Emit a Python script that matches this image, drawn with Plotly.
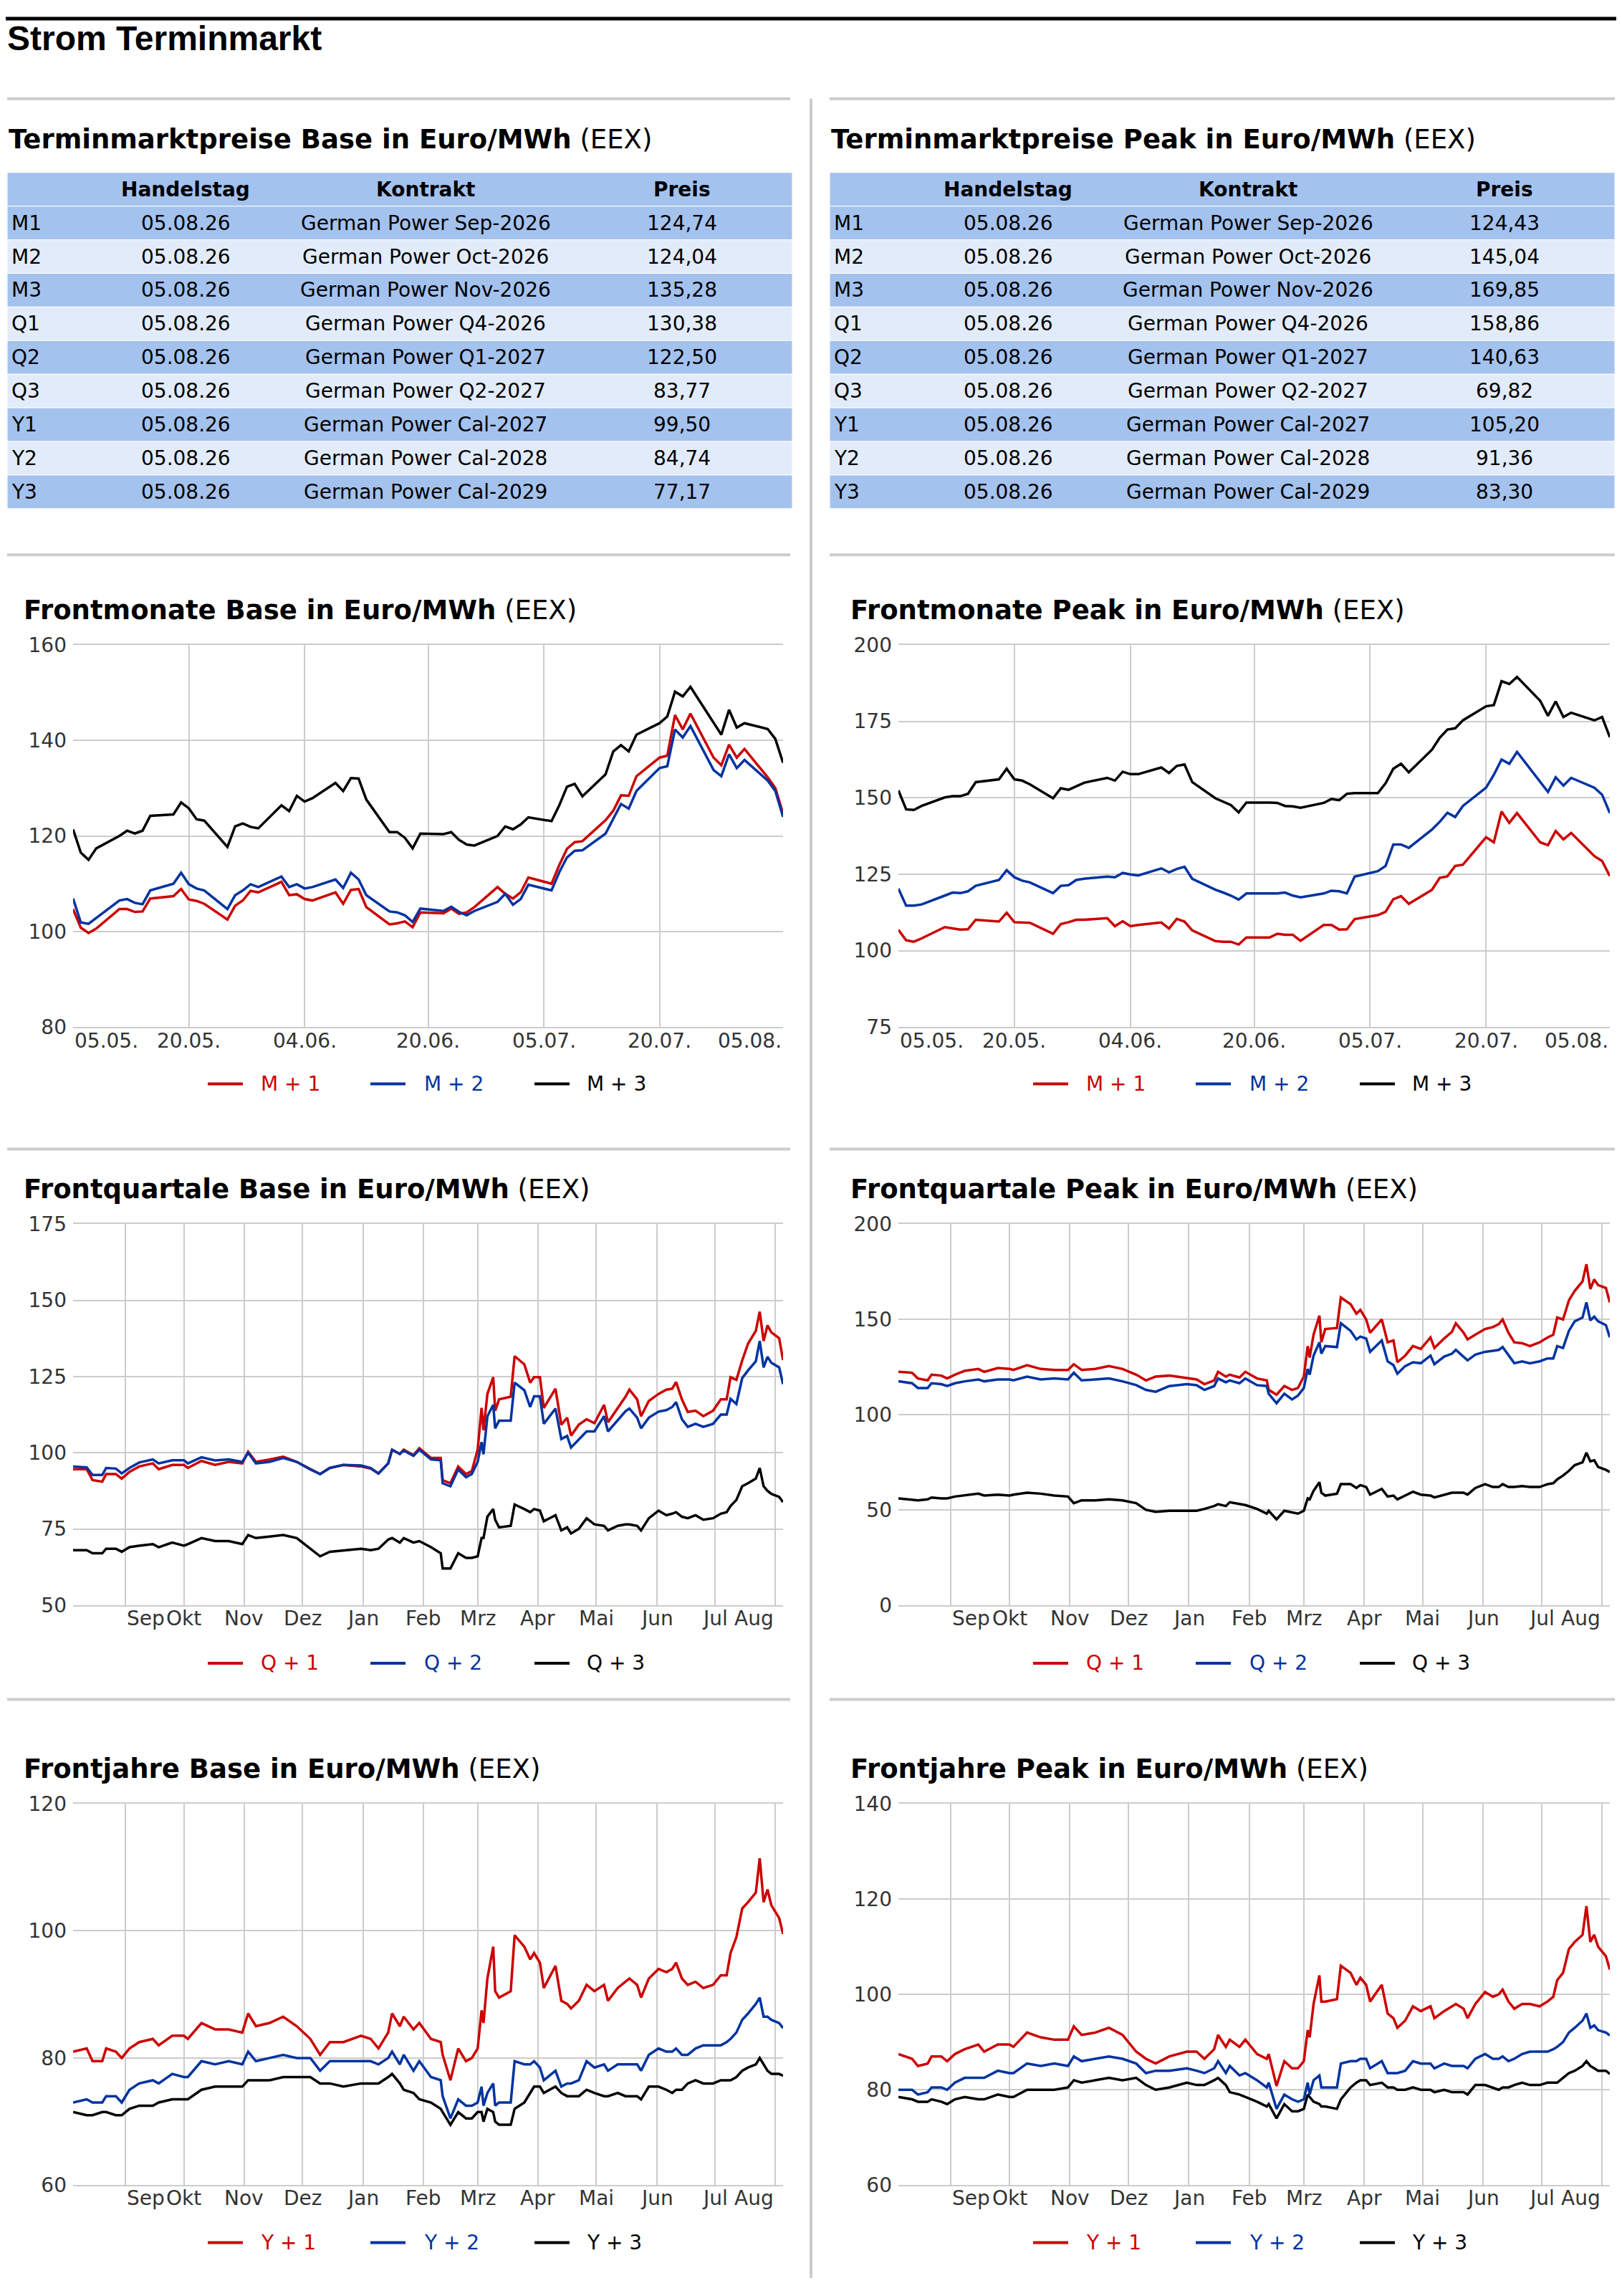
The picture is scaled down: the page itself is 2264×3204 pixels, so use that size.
import plotly.graph_objects as go

W, H = 2264, 3204
OFF = 8                      # default page margin of the html body
FW, FH = W - 2 * OFF, H - 2 * OFF
RED, BLUE, BLACK = "#cc0000", "#0033a0", "#000000"
FONT = "DejaVu Sans"

# ---------------- table data ----------------
row_labels = ["M1", "M2", "M3", "Q1", "Q2", "Q3", "Y1", "Y2", "Y3"]
trade_day = "05.08.26"
contracts = ["German Power Sep-2026", "German Power Oct-2026", "German Power Nov-2026",
             "German Power Q4-2026", "German Power Q1-2027", "German Power Q2-2027",
             "German Power Cal-2027", "German Power Cal-2028", "German Power Cal-2029"]
base_prices = ["124,74", "124,04", "135,28", "130,38", "122,50", "83,77", "99,50", "84,74", "77,17"]
peak_prices = ["124,43", "145,04", "169,85", "158,86", "140,63", "69,82", "105,20", "91,36", "83,30"]

# ---------------- front months (business days) ----------------
m_dates = ["2026-05-05","2026-05-06","2026-05-07","2026-05-08","2026-05-11","2026-05-12","2026-05-13","2026-05-14","2026-05-15",
           "2026-05-18","2026-05-19","2026-05-20","2026-05-21","2026-05-22","2026-05-25","2026-05-26","2026-05-27","2026-05-28","2026-05-29",
           "2026-06-01","2026-06-02","2026-06-03","2026-06-04","2026-06-05","2026-06-08","2026-06-09","2026-06-10","2026-06-11","2026-06-12",
           "2026-06-15","2026-06-16","2026-06-17","2026-06-18","2026-06-19","2026-06-22","2026-06-23","2026-06-24","2026-06-25","2026-06-26",
           "2026-06-29","2026-06-30","2026-07-01","2026-07-02","2026-07-03","2026-07-06","2026-07-07","2026-07-08","2026-07-09","2026-07-10",
           "2026-07-13","2026-07-14","2026-07-15","2026-07-16","2026-07-17","2026-07-20","2026-07-21","2026-07-22","2026-07-23","2026-07-24",
           "2026-07-27","2026-07-28","2026-07-29","2026-07-30","2026-07-31","2026-08-03","2026-08-04","2026-08-05"]
m1_base = [104.7,100.8,99.7,100.6,104.7,104.7,104.1,104.2,106.9, 107.4,108.9,106.7,106.4,105.8,102.5,105.4,106.5,108.5,108.2,
           110.4,107.6,107.8,106.8,106.5,108.2,105.8,108.7,108.9,105.1, 101.5,101.7,102.1,100.9,104.0,103.8,104.8,103.7,104.0,105.1,
           109.3,107.9,106.9,108.2,111.3,110.0,113.9,117.3,118.7,118.9, 123.3,125.3,128.5,128.4,132.5,136.4,136.8,145.3,142.3,145.6,
           136.4,134.8,139.1,136.4,138.2,132.3,130.0,124.7]
m2_base = [106.9,101.9,101.6,102.8,106.5,106.8,106.0,105.7,108.6, 110.0,112.3,109.9,109.0,108.6,104.7,107.6,108.6,109.9,109.3,
           111.5,109.3,109.9,109.0,109.3,110.9,109.1,112.3,110.9,107.6, 104.2,104.0,103.4,102.0,104.8,104.3,105.2,104.1,103.4,104.3,
           106.2,107.9,105.6,106.8,109.8,108.6,112.4,115.5,116.9,117.0, 120.5,123.5,126.7,125.7,129.4,134.2,134.6,142.3,140.6,143.0,
           133.8,132.5,137.1,134.2,135.9,131.6,129.4,124.0]
m3_base = [121.4,116.5,115.0,117.4,120.0,121.1,120.5,121.1,124.2, 124.5,127.0,125.8,123.5,123.2,117.7,122.0,122.6,121.9,121.6,
           126.4,125.2,128.4,127.2,127.9,131.1,129.4,132.1,132.0,127.6, 120.8,120.8,119.6,117.4,120.5,120.4,120.8,119.2,118.2,118.0,
           120.0,122.0,121.4,122.4,123.9,123.1,126.4,130.3,130.9,128.3, 132.9,137.7,139.0,137.7,141.2,143.6,145.0,150.2,149.2,151.2,
           143.6,141.2,146.4,142.7,143.6,142.4,140.3,135.3]
m1_peak = [106.8,103.4,102.9,104.0,107.7,107.3,106.9,107.0,110.1, 109.5,112.4,109.3,109.1,109.1,105.5,108.7,109.3,110.1,110.1,
           110.6,108.0,109.6,108.0,108.4,109.2,107.2,110.4,109.5,106.6, 103.1,102.9,102.9,102.0,104.3,104.3,105.5,105.2,105.2,103.2,
           108.4,108.4,106.9,107.0,110.3,111.6,112.7,116.8,117.8,115.3, 119.9,123.8,124.3,127.7,128.1,137.1,135.4,145.5,141.8,145.0,
           135.4,134.5,139.1,136.4,138.5,130.9,129.3,124.4]
m2_peak = [120.3,114.7,114.7,115.1,118.0,119.0,118.8,119.4,121.2, 123.1,126.3,124.0,122.9,122.3,118.8,121.2,121.4,123.1,123.5,
           124.2,124.0,125.4,124.9,124.6,126.9,125.6,126.7,127.4,123.5, 119.9,119.0,118.0,116.7,118.7,118.7,118.7,119.0,118.0,117.4,
           118.7,119.6,119.4,118.7,124.2,126.0,127.7,134.7,134.7,133.6, 139.6,142.1,145.1,143.7,147.3,153.3,157.5,162.5,161.1,165.0,
           155.0,151.9,156.7,154.0,156.5,153.3,151.0,145.0]
m3_peak = [152.4,146.2,146.0,147.3,150.1,150.5,150.5,151.3,155.1, 156.0,159.5,156.0,155.6,154.4,149.8,153.1,152.6,153.8,154.9,
           156.5,155.6,158.5,157.7,157.7,159.9,158.1,160.4,160.9,155.1, 149.8,148.7,147.6,145.2,148.4,148.4,148.3,147.3,147.2,146.7,
           148.3,149.6,149.2,151.3,151.5,151.5,154.7,159.5,161.1,158.3, 165.7,169.6,172.3,172.7,175.3,179.9,180.3,188.1,187.2,189.5,
           181.7,176.8,181.5,176.4,177.8,175.3,176.4,169.8]

# ---------------- front quarters / years (sampled dates) ----------------
qy_dates = ["2025-08-05","2025-08-12","2025-08-15","2025-08-20","2025-08-22","2025-08-27","2025-08-30",
            "2025-09-03","2025-09-08","2025-09-15","2025-09-18","2025-09-25",
            "2025-10-01","2025-10-03","2025-10-10","2025-10-17","2025-10-24","2025-10-31",
            "2025-11-03","2025-11-07","2025-11-14","2025-11-21","2025-11-28",
            "2025-12-05","2025-12-10","2025-12-15","2025-12-22","2025-12-31",
            "2026-01-05","2026-01-09","2026-01-14","2026-01-16","2026-01-20","2026-01-22","2026-01-27","2026-01-30",
            "2026-02-05","2026-02-10","2026-02-11","2026-02-15","2026-02-19","2026-02-23","2026-02-26",
            "2026-03-01","2026-03-03","2026-03-04","2026-03-06","2026-03-09","2026-03-10","2026-03-12","2026-03-18","2026-03-20",
            "2026-03-25","2026-03-28","2026-03-30",
            "2026-04-02","2026-04-04","2026-04-10","2026-04-13","2026-04-16","2026-04-18","2026-04-22","2026-04-26","2026-04-30",
            "2026-05-05","2026-05-07","2026-05-12","2026-05-16","2026-05-18","2026-05-22","2026-05-24","2026-05-28",
            "2026-06-02","2026-06-06","2026-06-09","2026-06-11","2026-06-14","2026-06-17","2026-06-21","2026-06-25","2026-06-30",
            "2026-07-04","2026-07-07","2026-07-09","2026-07-12","2026-07-15","2026-07-18","2026-07-22","2026-07-24","2026-07-26",
            "2026-07-28","2026-07-30","2026-08-03","2026-08-05"]
q1_base = [94.6,94.6,91,90.5,93,93,91.5, 93.7,95.5,96.5,94.6,96, 96,95,97.3,96,97,96.5, 100.3,97,97.8,98.7,97,
           94.6,93,95,96,95.5, 94.8,93.2,96.5,101,99.6,101,99.2,101.5, 98.3,98.3,91,90,95.5,93,94,
           101,114.7,107.4,119.3,124.8,113.8,117.5,118.4,131.7,129,123,124.8,
           124.8,114.7,121,109.2,111.5,105.6,109.2,111,109.7, 115.7,110,114.7,118.4,120.7,117.5,112,117,
           119.3,120.7,121,123.2,117.5,113.4,113.8,112,113.8, 117.5,117.5,124.8,123.9,130.3,135.8,140,146.3,136.7,
           141.8,139.5,137.6,130.4]
q2_base = [95.5,95.2,92.7,92.7,95,94.8,93.2, 95,96.8,97.8,96.5,97.5, 97.5,96.5,98.5,97.5,97.8,97, 100,96.5,97,98.3,97,
           94.5,93,95,96,95.8, 95,93.2,96.5,101,99.6,100.7,99,101, 97.8,97.5,90,89,94.5,92,93,
           97,103.5,99.5,112,115.7,108,110.5,110.5,123,120.5,115,118.5,
           118.5,109.5,114.5,104.5,105.5,101.7,104.5,107,107, 112,107,110.5,113.6,114.5,111.5,108,111.5,
           113.5,114,115,116.6,111,108.5,109.5,108.5,109.5, 112.5,112.5,117.7,116,124.5,127,130,136.7,128,
           131.5,129.5,128,122.5]
q3_base = [68,68,67,67,68.5,68.5,67.5, 69,69.5,70,69,70.5, 69.5,70,72,71,71,70, 73,72,72.5,73,72,
           68.5,66,67.5,68,68.5, 68,68.5,71.5,72,70.5,72,70.5,71, 69,67,62,62,67,65.5,65.5,
           66,72,72,79,81.5,78,75.5,76,83,81.5,80.5,81.5,
           81,77.5,79.5,74.5,75.5,73.5,75,78.5,76.5, 76,74.5,76,76.5,76.5,76,74.5,78.5,
           81,79.5,80,80.5,79,78.5,79.5,78,78.5, 80,80.5,82.5,84.5,89,90,91.5,95,89,
           87.5,86.5,85.5,83.8]
q1_peak = [122.5,122,119,118,121,120.5,119, 121,123,124,122.5,124.5, 124,123.5,126,124,123.5,123.5, 126.5,123.5,124,125.5,124,
           121,118,120,120.5,119, 118.5,116,118,122.5,120,121,119.5,122.5, 119,118,113,110.5,115,113,114,
           120,136,130,142,152,138,145,145.5,161.5,158,153,155,
           150,143,150,138,139,127.5,131,136,134.5, 140.5,135,140,143.5,148,143,139.5,142,
           145,146,147.5,150,143,138,137.5,136,138, 140.5,142,151,150,160,165,170,179,166,
           171,168,166.5,158.9]
q2_peak = [117.5,116.5,114,114,116.5,116,115, 116.5,117.5,118.5,117.5,118.5, 118.5,118,120,118.5,119,118.5, 122,118,118.5,119,117.5,
           115.5,113,112,115,116, 115.5,113,115,119,117,118,116.5,119, 115.5,115,111,106,111,108,110,
           114,124,121,131,138,132,136,135.5,148,144,139.5,141,
           140,133,139,128,126,121.5,125.5,127.5,127, 131,126.5,130.5,132,134,130.5,128.5,131.5,
           133,133.5,134,135.5,131,127,128,127,128, 129.5,129.5,136,135,144,149,151,159,149.5,
           151.5,149,147,140.6]
q3_peak = [56,55.5,55,55.5,56.5,56,56, 57,57.5,58.5,57.5,58, 57.5,58,59,58.5,57.5,57, 53.5,55,55,55.5,55,
           53.5,50,49,49.5,49.5, 49.5,50.5,52,53,52,54,53,52.5, 50.5,48,49.5,45,49.5,48.5,48,
           49.5,56,55.5,60,64.5,59,57.5,58.5,63.5,63.5,61.5,63,
           62,58,61,57,57.5,55.5,57.5,59.5,58, 57.5,56.5,58,59,59,59,58,61.5,
           63.5,62,62,63.5,62,62,62.5,62,62, 63.5,64,66,68,70.5,73.5,75,80,75.5,
           76,72.5,71,69.8]
y1_base = [81,81.5,79.5,79.5,81.5,81,80, 81.5,82.5,83,82,83.5, 83.5,83,85.5,84.5,84.5,84, 87,85,85.5,86.5,85,
           83,80.5,82.5,82.5,83.5, 83,81.5,84,87,85,86.5,84.5,85.5, 83,82.5,80.5,76.5,81.5,79.5,80,
           81.5,87.5,85.5,92.5,97.5,90.5,89.5,90.5,99.3,97.5,95.5,96.5,
           95,91,94.5,89,88.5,87.8,89,91.5,90.5, 91.5,89,91,92,92.5,91.5,89.5,92.5,
           94,93.5,94,95,92.5,91.5,92,91,91.5, 93,93,96.5,99,103.5,104.5,106,111.4,104.5,
           106.5,104,102,99.5]
y2_base = [73,73.5,73,73,74,74,73, 75,76,76.5,76,77.5, 77,77,79.5,79,79.5,79, 81,79.5,80,80.5,80,
           80,78,79.5,79.5,79.5, 79.5,79,80,81,79,80.5,78,79.5, 77,76.5,74,70.5,73.5,72.5,72.5,
           73,75.5,72.5,74.5,76,72.5,73,73,79.5,79,79,79.5,
           78.5,76.5,78,75.5,76,76,76.5,79.5,78.5, 79,78,79,79,79,79,78,80.5,
           81.5,81,81,81.5,80.5,80.5,81.5,82,82, 82,82.5,83,84,86,87,88.5,89.5,86.5,
           86.5,86,85.5,84.7]
y3_base = [71.5,71,71,71.5,71.5,71,71, 72,72.5,72.5,73,73.5, 73.5,73.5,75,75.5,75.5,75.5, 76.5,76.5,76.5,77,77,
           77,76,76,75.5,76, 76,76,77,77.5,76,75,74.5,73.5, 73,72,71.5,69.5,71.5,70.5,70.5,
           71.5,71.5,70,72,71.5,70,69.5,69.5,72,73,74.5,75.5,
           75.5,74.5,75.5,74.5,74,74,74,75,74.5, 74,74,74.5,74,74,74,73.5,75.5,
           75.5,75,74.5,75,75,76,76.5,76,76, 76.5,76.5,76.5,77,78,78.5,79,80,79,
           78,77.5,77.5,77.2]
y1_peak = [87.5,86.5,85,85.5,87,87,86, 87.5,88.5,89.5,88,89.5, 89.5,89,92,91,90.5,90.5, 93.3,91.5,92,93,91.5,
           88,86.5,85.5,87,88, 88,86.5,88.5,91.5,89,90.5,89,90.5, 87.5,86.5,87.5,80.8,86,84.5,84.5,
           86,92.5,91,98,104,98.5,98.5,99,106,104.5,102,103.5,
           102,98.5,102,96,95,93,94.5,97.5,96.5, 97.5,95,96.5,97.5,98,97,95,98,
           100.5,99.5,100,101,98.5,97,98,98,97.5, 98.5,99.5,103,104.5,109.5,111,112.5,118.5,111,
           112.5,110,108,105.2]
y2_peak = [80,80,79,79.5,80.5,80.5,80, 81.5,82.5,82.5,82.5,84, 83.5,83.5,85.5,85,85.5,85, 87,86,86.5,87,86.5,
           85.5,83.5,84,84,84.5, 84,83.5,84.5,86,83.5,85,83,83.5, 82,80.5,81.5,76,79,78,77.5,
           78,81.5,79,82,83,80.5,80.5,80.5,85.5,86,86,86.5,
           86.5,84.5,86,83.5,83.5,83.5,84,86,85.5, 85.5,84.5,85.5,85,85,85,84.5,86.5,
           87.5,86.5,86.5,87,86,86.5,87.5,88,88, 88,88.5,89,90,92,93,94.5,96,93,
           93.5,92.5,92,91.4]
y3_peak = [78.5,78,77.5,77.5,78,77.5,77, 78,78.5,78,78,79, 78.5,78.5,80,80,80,80.5, 82,81.5,82,82.5,82,
           82.5,81,80,80.5,81.5, 81,81,82,82.5,81,79.5,79,78.5, 77.5,76.5,77,74,77,75.5,75.5,
           76,79,78.5,77.5,77,76.5,76.5,76,78,80.5,81.5,82,
           82,81,81.5,80.5,80.5,80,80,80.5,80, 80,79.5,80,79.5,79.5,79.5,79,81,
           81,80.5,80,80.5,80.5,81,81.5,81,81, 81.5,81.5,81.5,82.5,83.5,84,85,86,85,
           84.5,84,84,83.3]

m_ticks = ["2026-05-20", "2026-06-04", "2026-06-20", "2026-07-05", "2026-07-20"]
m_ticklabels = ["20.05.", "04.06.", "20.06.", "05.07.", "20.07."]
q_ticks = ["2025-09-01","2025-10-01","2025-11-01","2025-12-01","2026-01-01","2026-02-01",
           "2026-03-01","2026-04-01","2026-05-01","2026-06-01","2026-07-01","2026-08-01"]
q_ticklabels = ["Sep","Okt","Nov","Dez","Jan","Feb","Mrz","Apr","Mai","Jun","Jul","Aug"]

# page pixel -> paper fraction (figure sits at the body margin offset)
def X(px): return (px - OFF) / FW
def Y(py): return 1 - (py - OFF) / FH

fig = go.Figure()
shapes, annots = [], []

def text(x, y, s, size=28, color="#000", xanchor="left", family=FONT, xref="paper", yref="paper"):
    annots.append(dict(x=x, y=y, xref=xref, yref=yref, text=s, showarrow=False, xanchor=xanchor,
                       yanchor="middle", font=dict(family=family, size=size, color=color)))

def hline(x0, x1, y, color="#cccccc", width=4):
    shapes.append(dict(type="line", xref="paper", yref="paper", x0=X(x0), x1=X(x1), y0=Y(y), y1=Y(y),
                       line=dict(color=color, width=width)))

# header
hline(OFF, W - OFF, 10, "#000000", 5)
text(X(OFF), Y(38), "<b>Strom Terminmarkt</b>", 48, family="Liberation Sans")
shapes.append(dict(type="line", xref="paper", yref="paper", x0=X(1132), x1=X(1132), y0=Y(123), y1=0,
                   line=dict(color="#cccccc", width=4)))
for yy in (123, 766, 1604, 2380):
    hline(10, 1103, yy)
    hline(1158, 2254, yy)

# tables
def table(x0, x1, title, prices):
    text(X(x0), Y(180), f"<b>{title}</b> (EEX)", 37)
    top, rh = 227, 47.4
    cols = [x0 + 4, x0 + 249, x0 + 584, x0 + 942]
    for r in range(10):
        dark = (r == 0) or ((r - 1) % 2 == 0)
        fill = "#a4c2ee" if dark else "#e2ebf9"
        shapes.append(dict(type="rect", xref="paper", yref="paper", x0=X(x0), x1=X(x1),
                           y0=Y(top + r * rh), y1=Y(top + (r + 1) * rh), fillcolor=fill,
                           line=dict(color="white", width=1), layer="below"))
        yc = Y(top + r * rh + rh / 2)
        if r == 0:
            row = ["", "<b>Handelstag</b>", "<b>Kontrakt</b>", "<b>Preis</b>"]
        else:
            row = [row_labels[r - 1], trade_day, contracts[r - 1], prices[r - 1]]
        for c, s in enumerate(row):
            text(X(cols[c]), yc, s, 28, xanchor="left" if c == 0 else "center")

table(10, 1106, "Terminmarktpreise Base in Euro/MWh", base_prices)
table(1158, 2254, "Terminmarktpreise Peak in Euro/MWh", peak_prices)

# charts
xdom = {"L": [X(102), X(1093)], "R": [X(1254), X(2247)]}
rows = {0: (893, 1432, 844, 1451, 1512), 1: (1710, 2247, 1661, 2266, 2329), 2: (2527, 3065, 2478, 3083, 3146)}
title_x = {"L": 31, "R": 1185}
leg_off = {"L": 0, "R": 1152}

charts = [
    ("L", 0, "Frontmonate Base in Euro/MWh", m_dates, [m1_base, m2_base, m3_base], ["M + 1", "M + 2", "M + 3"], (80, 160, 20), "m"),
    ("R", 0, "Frontmonate Peak in Euro/MWh", m_dates, [m1_peak, m2_peak, m3_peak], ["M + 1", "M + 2", "M + 3"], (75, 200, 25), "m"),
    ("L", 1, "Frontquartale Base in Euro/MWh", qy_dates, [q1_base, q2_base, q3_base], ["Q + 1", "Q + 2", "Q + 3"], (50, 175, 25), "q"),
    ("R", 1, "Frontquartale Peak in Euro/MWh", qy_dates, [q1_peak, q2_peak, q3_peak], ["Q + 1", "Q + 2", "Q + 3"], (0, 200, 50), "q"),
    ("L", 2, "Frontjahre Base in Euro/MWh", qy_dates, [y1_base, y2_base, y3_base], ["Y + 1", "Y + 2", "Y + 3"], (60, 120, 20), "q"),
    ("R", 2, "Frontjahre Peak in Euro/MWh", qy_dates, [y1_peak, y2_peak, y3_peak], ["Y + 1", "Y + 2", "Y + 3"], (60, 140, 20), "q"),
]
colors = [RED, BLUE, BLACK]
layout_axes = {}
for i, (side, r, title, dates, series, names, (ymin, ymax, dy), kind) in enumerate(charts):
    n = i + 1
    xa, ya = f"xaxis{n}", f"yaxis{n}"
    xr, yr = f"x{n}", f"y{n}"
    top, bot, ty, tly, ly = rows[r]
    if kind == "m":
        xrange = ["2026-05-05", "2026-08-05"]
        tv, tl = m_ticks, m_ticklabels
    else:
        xrange = ["2025-08-05", "2026-08-05"]
        tv, tl = q_ticks, q_ticklabels
    layout_axes[xa] = dict(domain=xdom[side], anchor=yr, type="date", range=xrange, tickvals=tv,
                           showticklabels=False, showgrid=True, gridcolor="#cccccc", gridwidth=2,
                           showline=True, mirror=True, linecolor="#cccccc", linewidth=2, zeroline=False, ticks="")
    layout_axes[ya] = dict(domain=[Y(bot), Y(top)], anchor=xr, range=[ymin, ymax], dtick=dy,
                           tick0=ymin, showgrid=True, gridcolor="#cccccc", gridwidth=2, zeroline=False,
                           tickfont=dict(family=FONT, size=28, color="#333333"), ticks="", ticklabelstandoff=8)
    for s, nm, col in zip(series, names, colors):
        m = min(len(dates), len(s))
        fig.add_trace(go.Scatter(x=dates[:m], y=s[:m], mode="lines", line=dict(color=col, width=3.5),
                                 xaxis=xr, yaxis=yr, showlegend=False, name=nm))
    text(X(title_x[side]), Y(ty), f"<b>{title}</b> (EEX)", 37)
    yl = Y(tly)
    x0p, x1p = xdom[side]
    if kind == "m":
        text(x0p, yl, "05.05.", 28, "#333333", "left")
        text(x1p, yl, "05.08.", 28, "#333333", "right")
        for v, l in zip(tv, tl):
            text(v, yl, l, 28, "#333333", "center", xref=xr)
    else:
        for j, (v, l) in enumerate(zip(tv, tl)):
            anc = "left" if j == 0 else ("right" if j == len(tv) - 1 else "center")
            text(v, yl, l, 28, "#333333", anc, xref=xr)
    off = leg_off[side]
    for (lx0, lx1, tx), nm, col in zip([(290, 339, 362), (517, 566, 590), (746, 795, 817)], names, colors):
        shapes.append(dict(type="line", xref="paper", yref="paper", x0=X(lx0 + off), x1=X(lx1 + off),
                           y0=Y(ly), y1=Y(ly), line=dict(color=col, width=4)))
        text(X(tx + off), Y(ly), nm, 28, col)

fig.update_layout(width=FW, height=FH, margin=dict(l=0, r=0, t=0, b=0), paper_bgcolor="white",
                  plot_bgcolor="white", shapes=shapes, annotations=annots, showlegend=False, **layout_axes)
fig.write_html("out.html")
